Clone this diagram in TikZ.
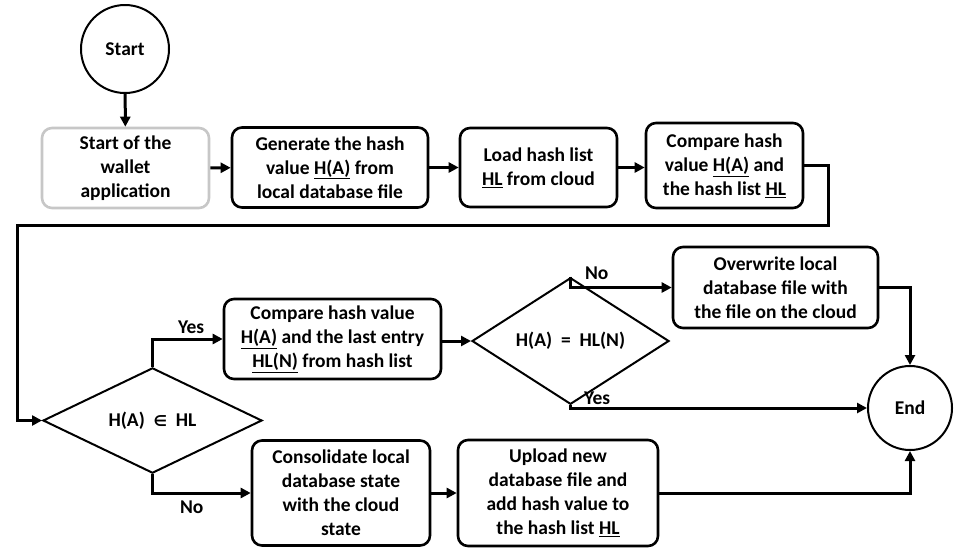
\documentclass[tikz,border=0pt]{standalone}
\usepackage{fontspec}
\setmainfont{Carlito}
\newfontfamily\symfont{DejaVu Sans}
\usetikzlibrary{shapes.geometric,arrows.meta}
\tikzset{
	box/.style={draw,line width=2.6pt,rounded corners=10pt,align=center,inner sep=0pt},
	graybox/.style={box,draw=black!22},
	decision/.style={draw,diamond,line width=2pt,inner sep=0pt,align=center},
	terminal/.style={draw,circle,line width=2pt,inner sep=0pt},
	line/.style={line width=3pt,>={Triangle[length=10pt,width=10pt]}},
	answer/.style={inner sep=0pt,pos=0.5}
}
\begin{document}
\begin{tikzpicture}[x=1pt,y=-1pt,font=\fontsize{19.5}{24}\selectfont\bfseries]
	\useasboundingbox (0,0) rectangle (963,558);
	\node[terminal,minimum size=88pt] (start) at (125,49) {Start};
	\node[graybox,minimum width=167pt,minimum height=80pt] (app) at (125.5,168) {Start of the\\wallet\\application};
	\node[box,minimum width=196pt,minimum height=80pt] (gen) at (330,167.5) {Generate the hash\\value \underline{H(A)} from\\local database file};
	\node[box,minimum width=157pt,minimum height=79pt] (load) at (538.5,167.5) {Load hash list\\\underline{HL} from cloud};
	\node[box,minimum width=157pt,minimum height=85pt] (cmphl) at (724.5,165.5) {Compare hash\\value \underline{H(A)} and\\the hash list \underline{HL}};
	\node[decision,minimum width=219pt,minimum height=93pt] (inhl) at (152.5,420.5) {H(A)\ \ {\symfont\fontsize{15}{15}\selectfont ∈}\ \ HL};
	\node[box,minimum width=217pt,minimum height=80pt] (cmplast) at (332.5,339) {Compare hash value\\\underline{H(A)} and the last entry\\\underline{HL(N)} from hash list};
	\node[decision,minimum width=197pt,minimum height=94pt] (eqn) at (570.5,341) {H(A)\ \ =\ \ HL(N)};
	\node[box,minimum width=205pt,minimum height=81pt] (over) at (775.5,287.5) {Overwrite local\\database file with\\the file on the cloud};
	\node[box,minimum width=178pt,minimum height=105pt] (consol) at (341,493) {Consolidate local\\database state\\with the cloud\\state};
	\node[box,minimum width=200pt,minimum height=106pt] (upload) at (558,493) {Upload new\\database file and\\add hash value to\\the hash list \underline{HL}};
	\node[terminal,minimum size=84pt] (end) at (910,408) {End};
	\coordinate (r1) at (828,225);
	\coordinate (l1) at (17,225);
	\draw[line,->] (start) -- (app);
	\draw[line,->] (app) -- (gen);
	\draw[line,->] (gen) -- (gen -| load.west);
	\draw[line,->] (load) -- (load -| cmphl.west);
	\draw[line,->] (cmphl.east) -| (r1) -- (l1) |- (inhl.west);
	\draw[line,->] (inhl.north) |- (cmplast.west) node[answer,anchor=south west,xshift=24pt,yshift=4pt] {Yes};
	\draw[line,->] (inhl.south) |- (consol.west) node[answer,anchor=north west,xshift=26pt,yshift=-6pt] {No};
	\draw[line,->] (cmplast.east |- eqn.west) -- (eqn.west);
	\draw[line,->] (consol) -- (upload);
	\draw[line,->] (eqn.north) |- (over.west) node[answer,anchor=south west,xshift=13pt,yshift=6pt] {No};
	\draw[line,->] (eqn.south) |- (end.west) node[answer,anchor=south west,xshift=12pt,yshift=2pt] {Yes};
	\draw[line,->] (over.east) -| (end.north);
	\draw[line,->] (upload.east) -| (end.south);
\end{tikzpicture}
\end{document}
